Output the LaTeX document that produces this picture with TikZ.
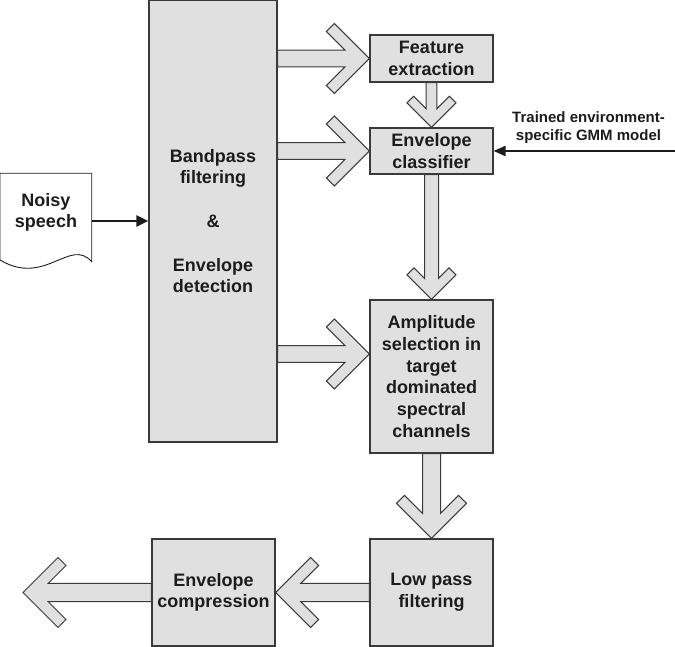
\documentclass[tikz,border=0pt]{standalone}
\usepackage{fontspec}
\setmainfont{Liberation Sans}
\usetikzlibrary{calc,arrows.meta}
\definecolor{boxfill}{RGB}{224,224,224}
\definecolor{boxline}{RGB}{58,58,58}
\definecolor{txt}{RGB}{28,28,28}
\tikzset{
  box/.style={draw=boxline, fill=boxfill, line width=1.2pt, inner sep=0pt, align=center,
    font={\fontsize{18}{21.7}\selectfont\bfseries}, text=txt},
  blk/.style={draw=boxline, fill=boxfill, line width=1pt, line join=miter},
  thinarr/.style={draw=txt, line width=2.4pt, -{Triangle[length=12pt,width=11pt]}},
  lbl/.style={align=center, inner sep=0pt, text=txt}
}
% block arrow: from, to, half shaft width, head size, arm offset
\newcommand\barrow[5]{%
  \draw[blk] let \p1=(#1), \p2=(#2), \n1={atan2(\y2-\y1,\x2-\x1)}, \n2={veclen(\x2-\x1,\y2-\y1)} in
    [shift={(\p2)}, rotate=\n1]
    (0,0) -- (-#4,#4) -- (-#4-#5,#4-#5) -- (-2*#5-#3,#3) -- (-\n2,#3) -- (-\n2,-#3)
    -- (-2*#5-#3,-#3) -- (-#4-#5,-#4+#5) -- (-#4,-#4) -- cycle;
}
\begin{document}
\begin{tikzpicture}[x=1pt,y=1pt]
\useasboundingbox (0,0) rectangle (675,647);
% boxes
\node[box, minimum width=128, minimum height=442] (big) at (213,426)
  {Bandpass\\filtering\\[22pt]\&\\[22pt]Envelope\\detection};
\node[box, minimum width=123, minimum height=47] (feat) at (431.5,588.5) {Feature\\extraction};
\node[box, minimum width=123, minimum height=46] (clf) at (431.5,496) {Envelope\\classifier};
\node[box, minimum width=123, minimum height=153] (amp) at (431.5,270.5)
  {Amplitude\\selection in\\target\\dominated\\spectral\\channels};
\node[box, minimum width=123, minimum height=107] (low) at (431.5,54.5) {Low pass\\filtering};
\node[box, minimum width=123, minimum height=107] (comp) at (213.5,54.5) {Envelope\\compression};
% noisy speech document
\draw[draw=txt, fill=white, line width=0.9pt] (0,473.7) -- (91.7,473.7) -- (91.7,385.3)
  .. controls (70,410) and (45,360) .. (0,387) -- cycle;
\node[lbl, font={\fontsize{18}{21.7}\selectfont\bfseries}] (noisy) at (46,434.5) {Noisy\\speech};
\coordinate (docR) at (91.7,426);
\draw[thinarr] (docR) -- (big.west);
% trained model input
\node[lbl, font={\fontsize{15}{18}\selectfont\bfseries}] (gmm) at (588.5,519.5) {Trained environment-\\specific GMM model};
\coordinate (gmmsrc) at (675,496);
\draw[draw=txt, line width=2.2pt, -{Triangle[length=12pt,width=10pt]}] (gmmsrc) -- (clf.east);
% block arrows
\coordinate (a3tip) at ($(amp.west)+(0,22.5)$);
\coordinate (outL) at (23,54.5);
\barrow{big.east |- feat.west}{feat.west}{8.4}{35}{8}
\barrow{big.east |- clf.west}{clf.west}{8.4}{35}{8}
\barrow{big.east |- a3tip}{a3tip}{8.4}{35}{8}
\barrow{feat.south}{clf.north}{5.3}{24.5}{6.6}
\barrow{clf.south}{amp.north}{7}{24.5}{7}
\barrow{amp.south}{low.north}{9}{35}{8}
\barrow{low.west}{comp.east}{9.2}{35}{8}
\barrow{comp.west}{outL}{9.2}{35}{8}
\end{tikzpicture}
\end{document}
